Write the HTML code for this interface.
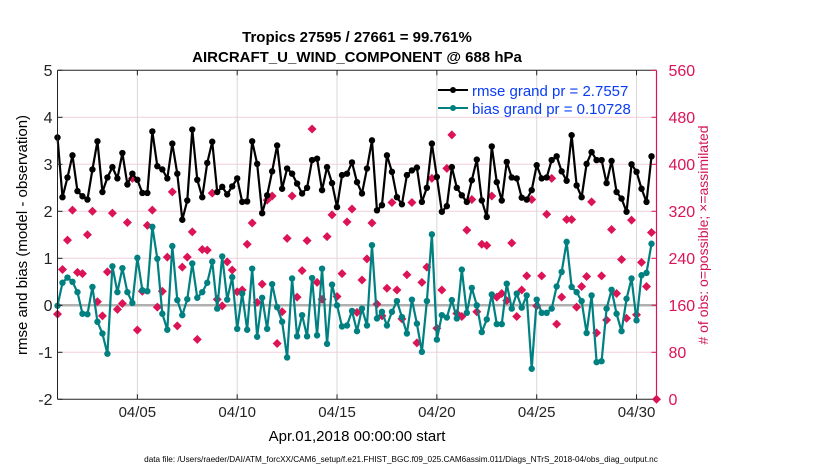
<!DOCTYPE html>
<html><head><meta charset="utf-8"><style>
body{margin:0;background:#fff;}
svg{display:block;font-family:"Liberation Sans",Arial,sans-serif;}
</style></head><body>
<svg id="chart" width="830" height="470" viewBox="0 0 830 470" xmlns="http://www.w3.org/2000/svg">
<rect width="830" height="470" fill="#fff"/>
<text x="357" y="42" text-anchor="middle" font-size="15" font-weight="bold">Tropics 27595 / 27661 = 99.761%</text>
<text x="357" y="62" text-anchor="middle" font-size="15" font-weight="bold">AIRCRAFT_U_WIND_COMPONENT @ 688 hPa</text>
<g id="grid"></g>
<g id="marks"></g>
<g id="axes"></g>
<g>
<line x1="438" y1="90" x2="468" y2="90" stroke="#000" stroke-width="2"/><circle cx="453" cy="90" r="3" fill="#000"/>
<text x="472" y="96" font-size="15" fill="#0a3cf5">rmse grand pr = 2.7557</text>
<line x1="438" y1="108" x2="468" y2="108" stroke="#008080" stroke-width="2"/><circle cx="453" cy="108" r="3" fill="#008080"/>
<text x="472" y="114" font-size="15" fill="#0a3cf5">bias grand pr = 0.10728</text>
</g>
<text transform="translate(27,235) rotate(-90)" text-anchor="middle" font-size="15">rmse and bias (model - observation)</text>
<text transform="translate(708,235) rotate(-90)" text-anchor="middle" font-size="14" fill="#d4145a"># of obs: o=possible; ×=assimilated</text>
<text x="357" y="441" text-anchor="middle" font-size="15">Apr.01,2018 00:00:00 start</text>
<text x="401" y="462" text-anchor="middle" font-size="8.2">data file: /Users/raeder/DAI/ATM_forcXX/CAM6_setup/f.e21.FHIST_BGC.f09_025.CAM6assim.011/Diags_NTrS_2018-04/obs_diag_output.nc</text>
</svg>
<script>
const xTickDays=[4,9,14,19,24,29];
const xTickLabels=["04/05","04/10","04/15","04/20","04/25","04/30"];
const yTicks=[-2,-1,0,1,2,3,4,5];
const y2Ticks=[0,80,160,240,320,400,480,560];
const rmse=[3.57,2.30,2.72,3.19,2.43,2.32,2.25,2.89,3.49,2.41,2.72,2.94,2.70,3.24,2.57,2.80,2.67,2.39,2.39,3.70,2.96,2.89,2.70,3.44,2.80,1.82,2.23,3.74,2.67,2.30,3.03,3.48,2.41,2.52,2.36,2.53,2.70,2.20,2.21,3.49,3.01,1.96,2.34,2.85,3.40,2.48,2.91,2.80,2.59,2.38,2.50,3.09,3.12,2.45,2.94,2.60,2.09,2.77,2.80,3.04,2.62,2.38,2.91,3.51,2.02,2.13,3.19,2.84,2.30,2.15,2.77,2.87,2.93,2.20,2.50,3.44,2.73,1.99,2.11,2.94,2.50,2.34,2.20,2.66,3.10,2.23,1.88,3.38,2.62,2.23,3.05,2.72,2.70,2.29,2.25,2.45,2.98,2.70,2.72,3.09,3.17,2.85,2.65,3.62,2.55,2.30,3.01,3.26,3.09,3.09,2.60,3.07,2.41,2.27,1.99,3.00,2.84,2.48,2.20,3.17];
const bias=[-0.01,0.48,0.59,0.50,0.28,-0.18,-0.19,0.39,-0.35,-0.60,-1.03,0.83,0.28,0.79,0.28,0.05,1.01,0.32,0.30,1.67,0.99,-0.18,-0.52,1.26,0.11,-0.21,0.13,0.89,0.16,0.28,0.48,0.93,-0.07,1.04,0.12,0.60,-0.50,0.25,-0.52,0.78,-0.67,0.16,-0.50,0.45,-0.04,-0.35,-1.11,0.57,-0.66,-0.21,-0.66,0.58,-0.64,0.78,-0.82,0.44,0,-0.45,-0.43,-0.12,-0.55,-0.07,-0.43,1.28,-0.28,-0.14,-0.43,-0.14,0.09,-0.25,-0.60,0.12,-0.39,-0.99,0.09,1.51,-0.73,-0.21,-0.26,0.11,-0.28,0.76,-0.16,0.37,0,-0.57,-0.30,0.23,-0.40,-0.40,0.46,-0.07,0.25,-0.05,0.21,-1.35,0.12,-0.16,-0.16,-0.07,0.40,0.71,1.35,0.39,0.28,0.09,-0.59,0.21,-1.21,-1.19,-0.07,0.33,-0.18,-0.55,0.14,0.57,-0.32,0.64,0.69,1.31];
const obsCount=[145,221,271,322,216,214,280,320,166,142,217,317,153,163,301,376,118,184,296,322,157,184,242,353,125,225,242,285,102,255,254,351,170,159,234,220,183,186,264,300,165,196,339,346,95,149,274,346,174,219,270,460,199,170,277,314,175,214,302,324,148,203,239,300,162,142,189,335,186,137,212,335,96,199,225,376,121,186,393,450,146,141,288,340,149,264,262,346,174,180,168,266,141,186,210,340,159,210,315,376,128,174,306,306,157,192,209,336,113,210,135,289,180,238,138,305,144,233,192,284,0];

const NS="http://www.w3.org/2000/svg";
const L=57.5,R=656.5,T=70.3,B=399.3;
const xs=d=>L+(d/30)*(R-L);
const ys=v=>B-(v+2)/7*(B-T);
const ys2=c=>B-c/560*(B-T);
function mk(tag,attrs,parent){const e=document.createElementNS(NS,tag);for(const k in attrs)e.setAttribute(k,attrs[k]);parent.appendChild(e);return e;}
const grid=document.getElementById('grid'),marks=document.getElementById('marks'),axes=document.getElementById('axes');

mk('rect',{x:L,y:T,width:R-L,height:B-T,fill:'#fff'},grid);
yTicks.forEach(v=>{if(v>-2&&v<5&&v!==0){const g=mk('line',{x1:L,x2:R,y1:ys(v),y2:ys(v),stroke:'#f2cfe0','stroke-width':1},grid);

}});
xTickDays.forEach(d=>{const g=mk('line',{x1:xs(d),x2:xs(d),y1:T,y2:B,stroke:'#d8d8d8','stroke-width':1},grid);

});
const z=mk('line',{x1:L,x2:R,y1:ys(0),y2:ys(0),stroke:'#b0b0b0','stroke-width':2.5},grid);



obsCount.forEach((c,i)=>{const x=xs(i*0.25),y=ys2(c);
const g=mk('path',{d:`M${x-4.5},${y}L${x},${y-4.5}L${x+4.5},${y}L${x},${y+4.5}Z`,fill:'#dc1455'},marks);

});

function series(arr,color,name){
 const pts=arr.map((v,i)=>xs(i*0.25)+','+ys(v)).join(' ');
 const p=mk('polyline',{points:pts,fill:'none',stroke:color,'stroke-width':2.2,'stroke-linejoin':'round'},marks);
 
 
 arr.forEach((v,i)=>{const c=mk('circle',{cx:xs(i*0.25),cy:ys(v),r:3.2,fill:color},marks);
 
 });
}
series(bias,'#008080','bias');
series(rmse,'#000000','rmse');

mk('line',{x1:L,x2:R,y1:T,y2:T,stroke:'#222','stroke-width':1},axes);
mk('line',{x1:L,x2:R,y1:B,y2:B,stroke:'#222','stroke-width':1},axes);
mk('line',{x1:L,x2:L,y1:T,y2:B,stroke:'#222','stroke-width':1},axes);
mk('line',{x1:R,x2:R,y1:T,y2:B,stroke:'#dc1455','stroke-width':1.2},axes);
yTicks.forEach(v=>{mk('line',{x1:L,x2:L+5,y1:ys(v),y2:ys(v),stroke:'#222'},axes);
const t=mk('text',{x:L-5,y:ys(v)+5.5,'text-anchor':'end','font-size':16,fill:'#222'},axes);t.textContent=v;

});
y2Ticks.forEach(c=>{mk('line',{x1:R,x2:R-5,y1:ys2(c),y2:ys2(c),stroke:'#dc1455'},axes);
const t=mk('text',{x:R+12,y:ys2(c)+5.5,'font-size':16,fill:'#dc1455'},axes);t.textContent=c;

});
xTickDays.forEach((d,i)=>{mk('line',{x1:xs(d),x2:xs(d),y1:B,y2:B-5,stroke:'#222'},axes);mk('line',{x1:xs(d),x2:xs(d),y1:T,y2:T+5,stroke:'#222'},axes);
const t=mk('text',{x:xs(d),y:417,'text-anchor':'middle','font-size':15,fill:'#222'},axes);t.textContent=xTickLabels[i];

});
</script>
</body></html>
